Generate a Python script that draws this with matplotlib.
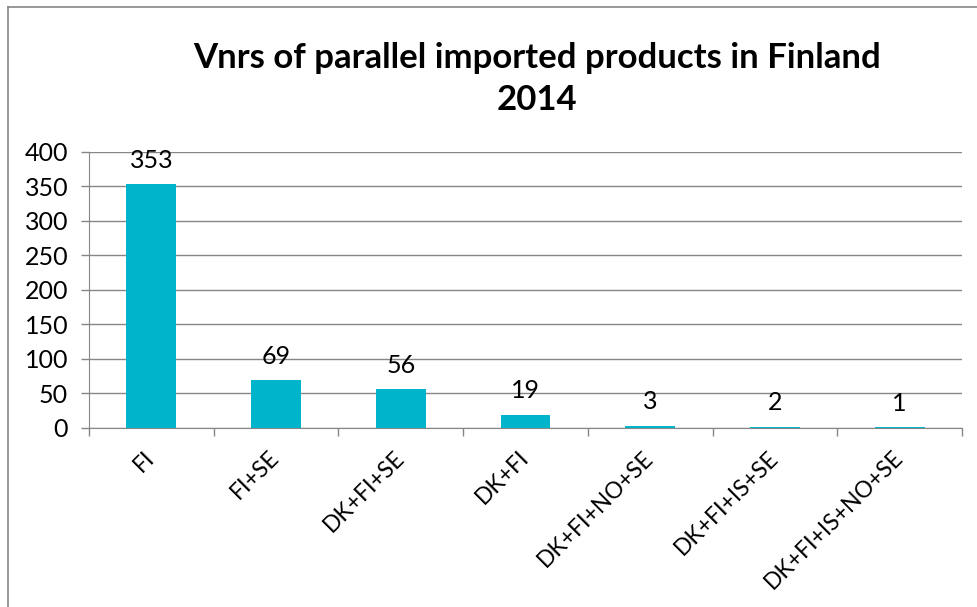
import numpy as np
import matplotlib
matplotlib.use("Agg")
import matplotlib.pyplot as plt
from matplotlib.lines import Line2D

plt.rcParams['font.family'] = ['Lato', 'DejaVu Sans']

# data
categories = ["FI", "FI+SE", "DK+FI+SE", "DK+FI", "DK+FI+NO+SE", "DK+FI+IS+SE", "DK+FI+IS+NO+SE"]
counts = [353, 69, 56, 19, 3, 2, 1]
yticks = [0, 50, 100, 150, 200, 250, 300, 350, 400]
title = "Vnrs of parallel imported products in Finland\n2014"

bar_color = "#00B4CC"
grid_color = "#868686"

fig = plt.figure(figsize=(9.78, 6.07), dpi=100)
ax = fig.add_axes([0.091, 0.295, 0.8926, 0.4547])

x = np.arange(len(categories))
bars = ax.bar(x, counts, width=0.4, color=bar_color, zorder=3)

for xi, v in zip(x, counts):
    ax.annotate(str(v), (xi, v), xytext=(0, 9), textcoords="offset points",
                ha="center", va="bottom", fontsize=18, color="black")

ax.set_xlim(-0.5, len(categories) - 0.5)
ax.set_ylim(0, 400)
ax.set_yticks(yticks)
ax.set_yticklabels([str(t) for t in yticks], fontsize=18)
ax.yaxis.grid(True, color=grid_color, linewidth=1, zorder=0)

# category labels at centres, tick marks at boundaries
ax.set_xticks(x)
ax.set_xticklabels(categories, rotation=45, ha="right", va="center",
                   rotation_mode="anchor", fontsize=16.5)
ax.tick_params(axis="x", which="major", length=0, pad=19)
ax.set_xticks(np.arange(len(categories) + 1) - 0.5, minor=True)
ax.tick_params(axis="x", which="minor", length=6, color=grid_color, width=1)
ax.tick_params(axis="y", length=6, color=grid_color, width=1, pad=9)

for s in ["top", "right"]:
    ax.spines[s].set_visible(False)
ax.spines["left"].set_color(grid_color)
ax.spines["bottom"].set_color(grid_color)

fig.text(0.549, 0.93, title, ha="center", va="top", fontsize=25, fontweight="bold",
         linespacing=1.35)

# chart frame (left and top edges)
fig.add_artist(Line2D([0.0082, 0.0082], [0, 0.9885], transform=fig.transFigure, color=grid_color, lw=1.2))
fig.add_artist(Line2D([0.0082, 1.0], [0.9885, 0.9885], transform=fig.transFigure, color=grid_color, lw=1.2))

fig.savefig("out.png", dpi=100)
